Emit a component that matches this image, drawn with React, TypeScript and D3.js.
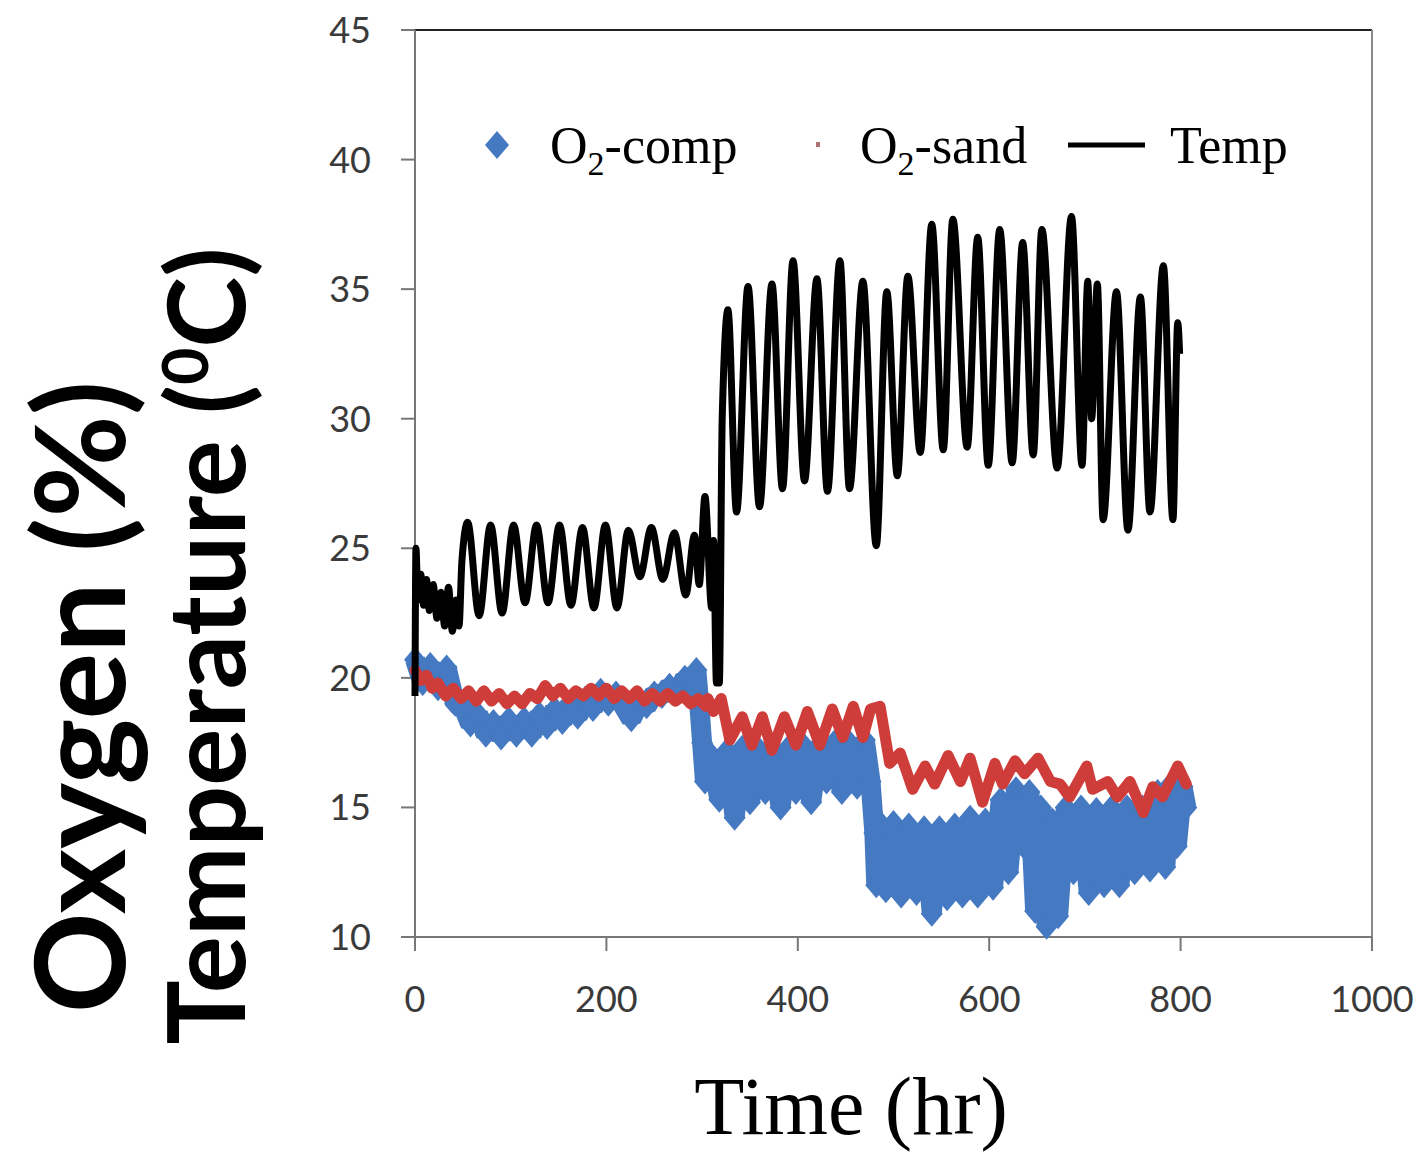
import React from "react";
import * as d3 from "d3";

// ---- data ----
const xTicks = [0, 200, 400, 600, 800, 1000];
const yTicks = [10, 15, 20, 25, 30, 35, 40, 45];

// Temperature (°C): [time hr, value]
const tempData: [number, number][] = [
  [0, 19.3], [1, 25.0], [3, 23.0], [6, 24.0], [9, 22.8], [12, 23.8], [15, 22.6], [19, 23.6],
  [23, 22.3], [27, 23.3], [31, 22.0], [35, 23.5], [39, 21.8], [43, 23.0], [46, 22.0], [49, 24.5],
  [55, 26.0], [67, 22.4], [79, 25.9], [91, 22.5], [103, 25.9], [115, 22.9], [127, 25.9], [139, 22.9],
  [151, 25.9], [163, 22.8], [175, 25.8], [187, 22.7], [199, 25.9], [211, 22.7], [223, 25.7], [235, 23.9],
  [247, 25.8], [259, 23.8], [271, 25.6], [283, 23.2], [292, 25.5], [297, 23.6], [303, 27.0], [310, 22.7],
  [312, 25.3], [315, 19.8], [318, 19.8], [321, 30.0], [327, 34.2], [336, 26.4], [348, 35.1], [360, 26.6],
  [373, 35.2], [384, 27.3], [395, 36.1], [407, 27.6], [420, 35.4], [431, 27.2], [444, 36.1], [454, 27.3],
  [468, 35.3], [482, 25.1], [493, 34.9], [504, 27.8], [515, 35.5], [528, 28.7], [540, 37.5], [552, 28.8],
  [562, 37.7], [577, 28.9], [588, 37.0], [599, 28.2], [611, 37.3], [624, 28.3], [635, 36.8], [646, 28.6],
  [655, 37.3], [671, 28.1], [686, 37.8], [697, 28.2], [703, 35.3], [707, 30.0], [713, 35.2], [719, 26.1],
  [733, 34.9], [745, 25.7], [758, 34.7], [768, 26.4], [782, 35.9], [792, 26.1], [797, 33.7], [799, 32.5],
];

// O2 in compost (%): [time hr, value]
const compData: [number, number][] = [
  [0, 20.7], [8, 19.8], [16, 20.5], [24, 19.6], [33, 20.4], [42, 19.0], [50, 18.9], [58, 18.2],
  [66, 18.6], [74, 17.8], [82, 18.3], [90, 17.7], [98, 18.4], [106, 17.8], [114, 18.4], [122, 17.8],
  [130, 18.6], [138, 18.1], [146, 18.8], [154, 18.3], [162, 19.0], [170, 18.5], [178, 19.2], [186, 18.8],
  [194, 19.5], [202, 19.0], [210, 19.4], [218, 18.9], [226, 18.4], [234, 19.0], [242, 18.9], [250, 19.4],
  [258, 19.3], [266, 19.7], [274, 19.4], [282, 20.0], [290, 19.8], [294, 20.3], [297, 19.0], [300, 17.5],
  [303, 16.0], [310, 17.0], [318, 15.3], [326, 17.2], [334, 14.6], [342, 17.3], [350, 15.2], [358, 17.3],
  [366, 15.6], [374, 17.3], [382, 15.0], [390, 17.3], [398, 15.6], [406, 17.4], [414, 15.2], [422, 17.4],
  [430, 16.0], [438, 17.5], [446, 15.6], [454, 17.5], [462, 15.8], [470, 17.6], [476, 16.0], [480, 14.0],
  [482, 12.0], [486, 14.4], [492, 11.8], [500, 14.4], [508, 11.6], [516, 14.3], [524, 11.7], [532, 14.2],
  [540, 10.9], [548, 14.2], [556, 11.5], [564, 14.3], [572, 11.6], [580, 14.6], [588, 11.6], [596, 14.5],
  [604, 11.9], [612, 15.3], [620, 12.5], [628, 15.7], [636, 13.5], [642, 15.6], [648, 11.0], [654, 15.0],
  [660, 10.4], [666, 14.5], [672, 10.8], [680, 15.0], [688, 12.5], [696, 15.0], [704, 11.7], [712, 14.9],
  [720, 12.0], [728, 15.0], [736, 12.0], [744, 15.0], [752, 12.5], [760, 15.0], [768, 12.6], [776, 15.6],
  [784, 12.7], [790, 15.9], [796, 13.5], [802, 15.8], [806, 15.0],
];

// O2 in sand (%): [time hr, value]
const sandData: [number, number][] = [
  [0, 20.3], [6, 19.9], [12, 20.1], [18, 19.6], [24, 19.8], [32, 19.3], [40, 19.6], [48, 19.2],
  [56, 19.5], [64, 19.1], [72, 19.5], [80, 19.1], [88, 19.4], [96, 19.0], [104, 19.3], [112, 19.0],
  [120, 19.4], [128, 19.2], [136, 19.7], [144, 19.3], [152, 19.6], [160, 19.2], [168, 19.5], [176, 19.3],
  [184, 19.6], [192, 19.3], [200, 19.6], [208, 19.2], [216, 19.5], [224, 19.2], [232, 19.5], [240, 19.1],
  [248, 19.4], [256, 19.1], [264, 19.4], [272, 19.1], [280, 19.3], [288, 19.0], [296, 19.2], [304, 18.9],
  [306, 19.2], [312, 18.7], [320, 19.2], [329, 17.6], [342, 18.5], [352, 17.4], [363, 18.5], [373, 17.2],
  [386, 18.5], [398, 17.4], [410, 18.7], [423, 17.4], [436, 18.8], [447, 17.7], [458, 18.9], [468, 17.7],
  [476, 18.8], [486, 18.9], [496, 16.7], [507, 17.1], [520, 15.7], [533, 16.6], [543, 15.9], [557, 17.0],
  [570, 16.0], [580, 16.9], [593, 15.2], [606, 16.7], [614, 15.9], [627, 16.8], [637, 16.3], [651, 16.9],
  [664, 16.0], [674, 15.9], [684, 15.4], [702, 16.6], [708, 15.7], [724, 16.0], [734, 15.4], [747, 16.0],
  [761, 14.8], [771, 15.8], [781, 15.4], [797, 16.6], [806, 15.9],
];

const legendLabels = ["O2-comp", "O2-sand", "Temp"];

export default function App() {
  const W = 1425;
  const H = 1152;
  const x = d3.scaleLinear().domain([0, 1000]).range([415, 1372]);
  const y = d3.scaleLinear().domain([10, 45]).range([937, 30]);
  const line = d3
    .line<[number, number]>()
    .x((d) => x(d[0]))
    .y((d) => y(d[1]));
  const smooth = d3
    .line<[number, number]>()
    .x((d) => x(d[0]))
    .y((d) => y(d[1]))
    .curve(d3.curveMonotoneX);

  const blue = "#4579c2";
  const red = "#cf3d3a";
  const diamond = (cx: number, cy: number, rw: number, rh: number) =>
    `M${cx},${cy - rh}L${cx + rw},${cy}L${cx},${cy + rh}L${cx - rw},${cy}Z`;

  const x0 = x(0);
  const x1 = x(1000);
  const yTop = y(45);
  const yBot = y(10);

  return (
    <svg
      width={W}
      height={H}
      style={{ position: "absolute", left: 0, top: 0, background: "#fff" }}
    >
      {/* plot frame */}
      <line x1={x0} y1={yTop} x2={x1} y2={yTop} stroke="#222" strokeWidth={2} />
      <line x1={x1} y1={yTop} x2={x1} y2={yBot} stroke="#888" strokeWidth={2} />
      <line x1={x0} y1={yTop} x2={x0} y2={yBot + 8} stroke="#777" strokeWidth={2} />
      <line x1={x0 - 14} y1={yBot} x2={x1} y2={yBot} stroke="#777" strokeWidth={2} />

      {/* y ticks */}
      {yTicks.map((t) => (
        <g key={"y" + t}>
          <line x1={x0 - 14} x2={x0} y1={y(t)} y2={y(t)} stroke="#777" strokeWidth={2} />
          <text
            x={371}
            y={y(t)}
            dy="0.36em"
            textAnchor="end"
            fontFamily="Lato, 'Open Sans', sans-serif"
            fontSize={36}
            fill="#3a3a3a"
          >
            {t}
          </text>
        </g>
      ))}
      {/* x ticks */}
      {xTicks.map((t) => (
        <g key={"x" + t}>
          <line x1={x(t)} x2={x(t)} y1={yBot} y2={yBot + 14} stroke="#777" strokeWidth={2} />
          <text
            x={x(t)}
            y={1012}
            textAnchor="middle"
            fontFamily="Lato, 'Open Sans', sans-serif"
            fontSize={36}
            fill="#3a3a3a"
          >
            {t}
          </text>
        </g>
      ))}

      {/* O2-comp: blue diamonds, dense */}
      <path
        d={line(compData) || ""}
        fill="none"
        stroke={blue}
        strokeWidth={20}
        strokeLinejoin="bevel"
      />
      {compData.map((d, i) => (
        <path key={"c" + i} d={diamond(x(d[0]), y(d[1]), 11, 13)} fill={blue} />
      ))}

      {/* O2-sand: red small markers, dense */}
      <path
        d={line(sandData) || ""}
        fill="none"
        stroke={red}
        strokeWidth={11}
        strokeLinejoin="round"
        strokeLinecap="round"
      />

      {/* Temperature */}
      <path
        d={smooth(tempData) || ""}
        fill="none"
        stroke="#000"
        strokeWidth={7}
        strokeLinejoin="round"
      />

      {/* legend */}
      <path d={diamond(497, 145, 12, 14)} fill={blue} />
      <text x={550} y={163} fontFamily="'Liberation Serif', 'Times New Roman', serif" fontSize={52} fill="#000">
        O<tspan fontSize={34} dy={12}>2</tspan>
        <tspan dy={-12}>-comp</tspan>
      </text>
      <rect x={816} y={142} width={4} height={5} fill="#b07272" />
      <text x={860} y={163} fontFamily="'Liberation Serif', 'Times New Roman', serif" fontSize={52} fill="#000">
        O<tspan fontSize={34} dy={12}>2</tspan>
        <tspan dy={-12}>-sand</tspan>
      </text>
      <line x1={1068} x2={1145} y1={145} y2={145} stroke="#000" strokeWidth={5} />
      <text x={1170} y={163} fontFamily="'Liberation Serif', 'Times New Roman', serif" fontSize={52} fill="#000">
        {legendLabels[2]}
      </text>

      {/* axis titles */}
      <text
        transform="translate(125,697) rotate(-90)"
        textAnchor="middle"
        fontFamily="Lato, 'Open Sans', sans-serif"
        fontWeight={700}
        fontSize={125}
        fill="#000"
      >
        Oxygen (%)
      </text>
      <text
        transform="translate(245,646) rotate(-90)"
        textAnchor="middle"
        fontFamily="Lato, 'Open Sans', sans-serif"
        fontWeight={700}
        fontSize={107}
        fill="#000"
      >
        Temperature (<tspan fontSize={64} dy={-37}>0</tspan>
        <tspan dy={37}>C)</tspan>
      </text>
      <text
        x={851}
        y={1134}
        textAnchor="middle"
        fontFamily="'Liberation Serif', 'Times New Roman', serif"
        fontSize={82}
        fill="#000"
      >
        Time (hr)
      </text>
    </svg>
  );
}
